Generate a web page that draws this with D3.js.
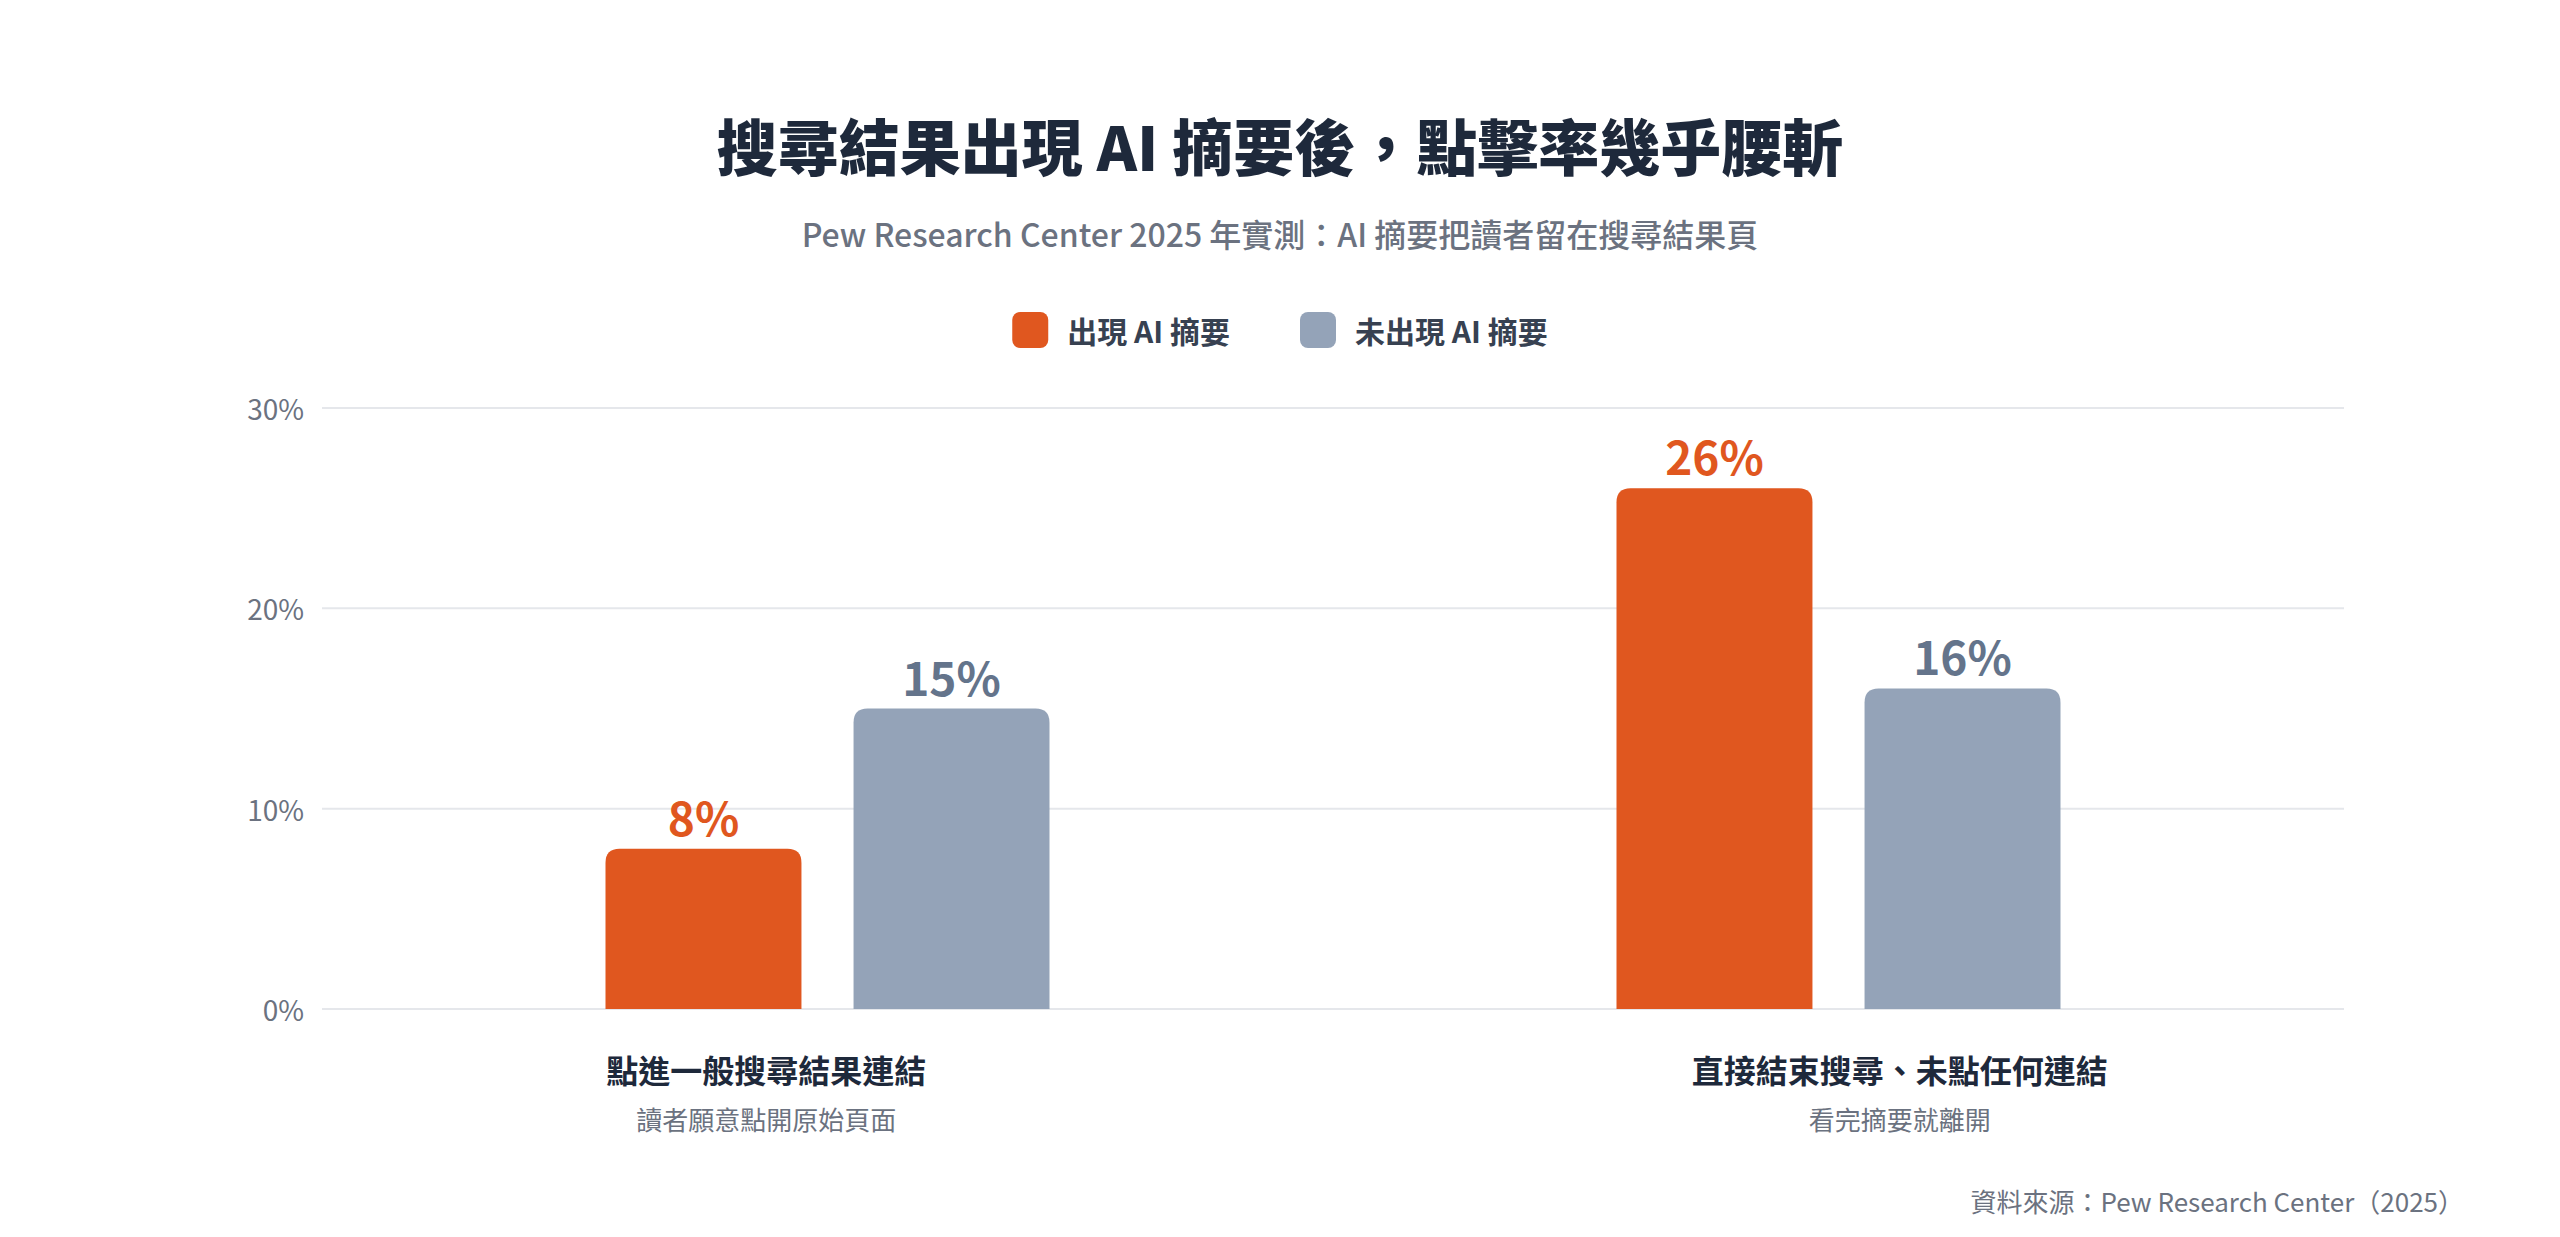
<!DOCTYPE html>
<html lang="zh-Hant">
<head>
<meta charset="UTF-8">
<title>搜尋結果出現 AI 摘要後，點擊率幾乎腰斬</title>
<script src="https://cdn.jsdelivr.net/npm/d3@7"></script>
<style>
  html, body { margin: 0; padding: 0; background: #fff; }
  svg { display: block; font-family: "Noto Sans CJK TC", "Noto Sans", sans-serif; }
</style>
</head>
<body>
<svg id="chart" width="2560" height="1237"></svg>
<script>
// data
var categories = ['點進一般搜尋結果連結', '直接結束搜尋、未點任何連結'];
var subLabels = ['讀者願意點開原始頁面', '看完摘要就離開'];
var seriesNames = ['出現 AI 摘要', '未出現 AI 摘要'];
var withAI = [8, 26];
var withoutAI = [15, 16];
var yTicks = [0, 10, 20, 30];

var colors = ['#e0571f', '#94a3b8'];
var labelColors = ['#e0571f', '#64748b'];

var W = 2560, H = 1237;
var margin = {top: 408, right: 216, bottom: 228, left: 322};
var svg = d3.select('#chart');

var rows = categories.map(function (c, i) {
    return {cat: c, sub: subLabels[i], values: [withAI[i], withoutAI[i]]};
});

var y = d3.scaleLinear().domain([0, 30]).range([H - margin.bottom, margin.top]);
var x0 = d3.scaleBand().domain(categories).range([margin.left, W - margin.right]).padding(0);
var groupW = 444;
var x1 = d3.scaleBand().domain([0, 1])
    .range([x0.bandwidth() / 2 - groupW / 2, x0.bandwidth() / 2 + groupW / 2])
    .paddingInner(0.21);
// category labels sit a little wider apart than the bar groups
var xLabel = d3.scalePoint().domain(categories).range([margin.left, W - margin.right]).padding(0.392);

// title & subtitle
svg.append('text')
    .attr('x', W / 2).attr('y', 144)
    .attr('text-anchor', 'middle').attr('dominant-baseline', 'central')
    .attr('font-size', 61).attr('font-weight', 900).attr('fill', '#1e293b')
    .text('搜尋結果出現 AI 摘要後，點擊率幾乎腰斬');
svg.append('text')
    .attr('x', W / 2).attr('y', 233)
    .attr('text-anchor', 'middle').attr('dominant-baseline', 'central')
    .attr('font-size', 32).attr('font-weight', 500).attr('fill', '#6b7280')
    .text('Pew Research Center 2025 年實測：AI 摘要把讀者留在搜尋結果頁');

// legend
var legend = svg.append('g');
var items = legend.selectAll('g').data(seriesNames).enter().append('g');
items.append('rect')
    .attr('width', 36).attr('height', 36).attr('rx', 8).attr('y', -18)
    .attr('fill', function (d, i) { return colors[i]; });
items.append('text')
    .attr('x', 55).attr('dominant-baseline', 'central')
    .attr('font-size', 30).attr('font-weight', 700).attr('fill', '#374151')
    .text(function (d) { return d; });
var xoff = 0;
items.each(function () {
    var g = d3.select(this);
    g.attr('transform', 'translate(' + xoff + ',0)');
    xoff += this.getBBox().width + 70;
});
var lw = xoff - 70;
legend.attr('transform', 'translate(' + (W / 2 - lw / 2) + ',330)');

// grid + y labels
var grid = svg.append('g');
grid.selectAll('line').data(yTicks).enter().append('line')
    .attr('x1', margin.left).attr('x2', W - margin.right)
    .attr('y1', function (d) { return y(d); }).attr('y2', function (d) { return y(d); })
    .attr('stroke', '#e5e7eb').attr('stroke-width', 2);
grid.selectAll('text').data(yTicks).enter().append('text')
    .attr('x', margin.left - 18).attr('y', function (d) { return y(d); })
    .attr('text-anchor', 'end').attr('dominant-baseline', 'central')
    .attr('font-size', 28).attr('fill', '#6b7280')
    .text(function (d) { return d + '%'; });

// bars, rounded on top only
function topRounded(x, yTop, w, h, r) {
    r = Math.min(r, h, w / 2);
    return 'M' + x + ',' + (yTop + h) +
        'V' + (yTop + r) +
        'Q' + x + ',' + yTop + ' ' + (x + r) + ',' + yTop +
        'H' + (x + w - r) +
        'Q' + (x + w) + ',' + yTop + ' ' + (x + w) + ',' + (yTop + r) +
        'V' + (yTop + h) + 'Z';
}

var groups = svg.selectAll('g.grp').data(rows).enter().append('g')
    .attr('class', 'grp')
    .attr('transform', function (d) { return 'translate(' + x0(d.cat) + ',0)'; });

groups.selectAll('path').data(function (d) { return d.values; }).enter().append('path')
    .attr('d', function (v, i) {
        return topRounded(x1(i), y(v), x1.bandwidth(), y(0) - y(v), 14);
    })
    .attr('fill', function (v, i) { return colors[i]; });

groups.selectAll('text.val').data(function (d) { return d.values; }).enter().append('text')
    .attr('class', 'val')
    .attr('x', function (v, i) { return x1(i) + x1.bandwidth() / 2; })
    .attr('y', function (v) { return y(v) - 13; })
    .attr('text-anchor', 'middle')
    .attr('font-size', 46).attr('font-weight', 700)
    .attr('fill', function (v, i) { return labelColors[i]; })
    .text(function (v) { return v + '%'; });

// category labels
var cats = svg.selectAll('g.cat').data(rows).enter().append('g').attr('class', 'cat');
cats.append('text')
    .attr('x', function (d) { return xLabel(d.cat); }).attr('y', 1069)
    .attr('text-anchor', 'middle').attr('dominant-baseline', 'central')
    .attr('font-size', 32).attr('font-weight', 700).attr('fill', '#1e293b')
    .text(function (d) { return d.cat; });
cats.append('text')
    .attr('x', function (d) { return xLabel(d.cat); }).attr('y', 1118)
    .attr('text-anchor', 'middle').attr('dominant-baseline', 'central')
    .attr('font-size', 26).attr('fill', '#6b7280')
    .text(function (d) { return d.sub; });

// source
svg.append('text')
    .attr('x', 2464).attr('y', 1200)
    .attr('text-anchor', 'end').attr('dominant-baseline', 'central')
    .attr('font-size', 26).attr('fill', '#6b7280')
    .text('資料來源：Pew Research Center（2025）');
</script>
</body>
</html>
